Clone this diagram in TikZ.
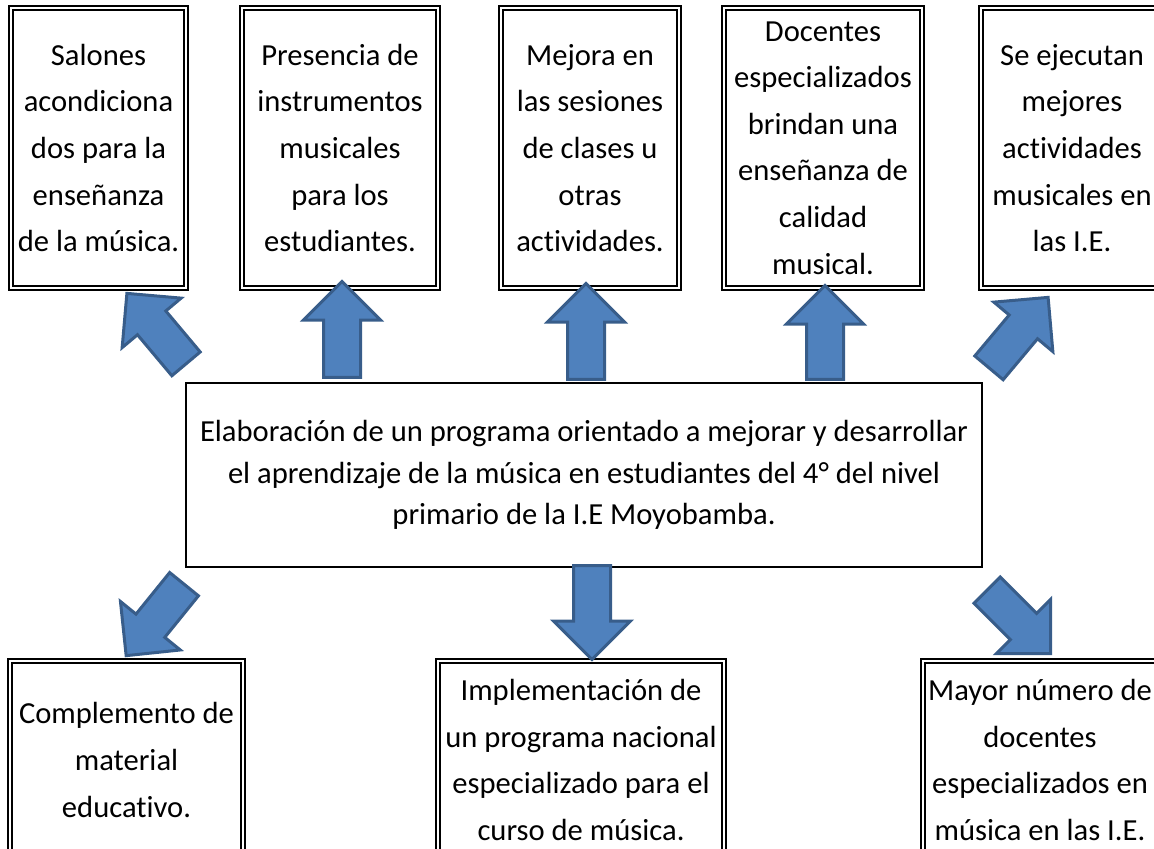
\documentclass[tikz,border=0pt]{standalone}
\usepackage{fontspec}
\setmainfont{Carlito}[Ligatures=NoCommon]
\usepackage{tikz}
\usetikzlibrary{shapes.arrows}
\definecolor{azul}{HTML}{4F81BD}
\definecolor{azulborde}{HTML}{385D8A}

\begin{document}
\begin{tikzpicture}[x=0.5pt,y=-0.5pt,
  every node/.style={font=\fontsize{15.3}{23.3}\selectfont},
  caja/.style={draw,line width=0.6pt,align=center,inner sep=0pt},
  flecha/.style={single arrow,fill=azul,draw=azulborde,line width=1.5pt,inner xsep=0pt,inner ysep=8.5pt,single arrow head extend=10pt,anchor=tail,minimum height=#1},
  flecha/.default=47pt]
\clip (0,0) rectangle (1154,849);
\node[caja,minimum width=85.5pt,minimum height=138pt] (t1) at (98.5,148) {Salones\\acondiciona\\dos para la\\enseñanza\\de la música.};
\node[caja,minimum width=96pt,minimum height=138pt] (t2) at (340,148) {Presencia de\\instrumentos\\musicales\\para los\\estudiantes.};
\node[caja,minimum width=87pt,minimum height=138pt] (t3) at (590,148) {Mejora en\\las sesiones\\de clases u\\otras\\actividades.};
\node[caja,minimum width=97pt,minimum height=138pt] (t4) at (823,148) {Docentes\\especializados\\brindan una\\enseñanza de\\calidad\\musical.};
\node[caja,minimum width=89pt,minimum height=138pt] (t5) at (1072,148) {Se ejecutan\\mejores\\actividades\\musicales en\\las I.E.};
\node[caja,minimum width=398pt,minimum height=92pt,line width=0.7pt,font=\fontsize{15.3}{20.8}\selectfont] (c) at (584,475) {Elaboración de un programa orientado a mejorar y desarrollar\\el aprendizaje de la música en estudiantes del 4° del nivel\\primario de la I.E Moyobamba.};
\node[caja,minimum width=114.5pt,minimum height=97pt] (b1) at (126.5,760) {Complemento de\\material\\educativo.};
\node[caja,minimum width=141pt,minimum height=97pt] (b2) at (581,760) {Implementación de\\un programa nacional\\especializado para el\\curso de música.};
\node[caja,minimum width=115pt,minimum height=97pt] (b3) at (1040,760) {Mayor número de\\docentes\\especializados en\\música en las I.E.};
\foreach \n in {t1,t2,t3,t4,t5,b1,b2,b3}
  \draw[line width=1.1pt] ([shift={(-1.6pt,1.6pt)}]\n.north west) rectangle ([shift={(1.6pt,-1.6pt)}]\n.south east);
\node[flecha=46pt,rotate=130] (f1) at (187,365) {};
\node[flecha=48pt,rotate=90] (f2) at (342,379) {};
\node[flecha=48pt,rotate=90] (f3) at (586,381) {};
\node[flecha=47pt,rotate=90] (f4) at (825,381) {};
\node[flecha=46pt,rotate=50] (f5) at (988,369) {};
\node[flecha=46pt,rotate=-129] (f6) at (185,583) {};
\node[flecha=47pt,rotate=-90] (f7) at (592,564) {};
\node[flecha=45pt,rotate=-45] (f8) at (986,589) {};
\end{tikzpicture}
\end{document}
